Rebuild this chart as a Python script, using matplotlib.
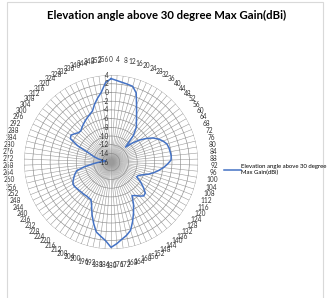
import numpy as np
import matplotlib
matplotlib.use("Agg")
import matplotlib.pyplot as plt
import matplotlib.patches as mpatches

plt.rcParams['font.family'] = ['Lato', 'DejaVu Sans']

# category angles (degrees) and gain values
angles = list(range(0, 360, 4))
gain = [
    3.2, 2.8, 2.5, 2.3, 2.1,        # 0-16
    0.9, -1.6, -3.5, -5.0, -6.1,    # 20-36
    -8.0, -11.2, -9.5, -7.8, -6.3,  # 40-56
    -4.9, -3.9, -3.1, -2.5, -2.3,   # 60-76
    -2.2, -2.1, -2.2, -3.0, -3.9,   # 80-96
    -4.9, -5.9, -7.0, -8.2, -9.0,   # 100-116
    -9.2, -7.8, -6.6, -5.4, -5.2,   # 120-136
    -5.8, -6.5, -6.9, -5.0, -3.3,   # 140-156
    -1.5, 0.3, 1.2, 1.9, 2.8,       # 160-176
    3.6, 2.1, 1.2, 0.4, -1.4,       # 180-196
    -3.2, -5.0, -6.2, -6.3, -6.4,   # 200-216
    -6.3, -6.3, -6.2, -6.1, -5.9,   # 220-236
    -5.9, -6.3, -6.8, -7.3, -7.9,   # 240-256
    -9.8, -11.6, -12.8, -13.8, -14.6,  # 260-276
    -14.8, -13.0, -11.8, -10.6, -7.5,  # 280-296
    -5.2, -4.9, -5.4, -5.9, -6.0,   # 300-316
    -5.6, -5.2, -4.8, -4.4, -4.0,   # 320-336
    -3.5, -2.2, -1.0, 0.2, 2.3,     # 340-356
]
r_ticks = list(range(-16, 5, 2))
series_name = "Elevation angle above 30 degree\nMax Gain(dBi)"
title = "Elevation angle above 30 degree Max Gain(dBi)"

fig = plt.figure(figsize=(3.34, 2.98), dpi=100)

# chart area border like excel
fig.patches.append(mpatches.Rectangle((7/334, -0.1), 316/334, 1.1 - 2/298,
                                      transform=fig.transFigure, fill=False,
                                      edgecolor='#d9d9d9', linewidth=0.8))

ax = fig.add_axes([0.072, 0.164, 0.521, 0.584], projection='polar')
ax.set_theta_zero_location('N')
ax.set_theta_direction(-1)

th = np.deg2rad(angles + [angles[0]])
vals = gain + [gain[0]]
ax.plot(th, vals, color='#4472C4', linewidth=1.1, label=series_name, zorder=5)

ax.set_ylim(-16, 4)
ax.set_yticks(r_ticks)
ax.set_yticklabels([])
ax.set_xticks(np.deg2rad(angles))
ax.set_xticklabels([str(a) for a in angles], fontsize=4.7, color='#333333')
ax.tick_params(axis='x', pad=1)
ax.xaxis.grid(True, color='#9a9a9a', linewidth=0.4)
ax.yaxis.grid(True, color='#8c8c8c', linewidth=0.45)
ax.spines['polar'].set_visible(False)

for v in r_ticks:
    ax.annotate(str(v), xy=(0, v), xytext=(-1.5, 0), textcoords='offset points',
                ha='right', va='center', fontsize=4.8, color='#333333', zorder=6)

fig.suptitle(title, x=0.5, y=0.965, fontsize=8.2, fontweight='bold', color='#000000')

fig.legend(loc='center left', bbox_to_anchor=(0.655, 0.43), frameon=False,
           fontsize=4.3, handlelength=2.8, handletextpad=0.1, labelspacing=0.2)

fig.savefig('out.png', dpi=100)
